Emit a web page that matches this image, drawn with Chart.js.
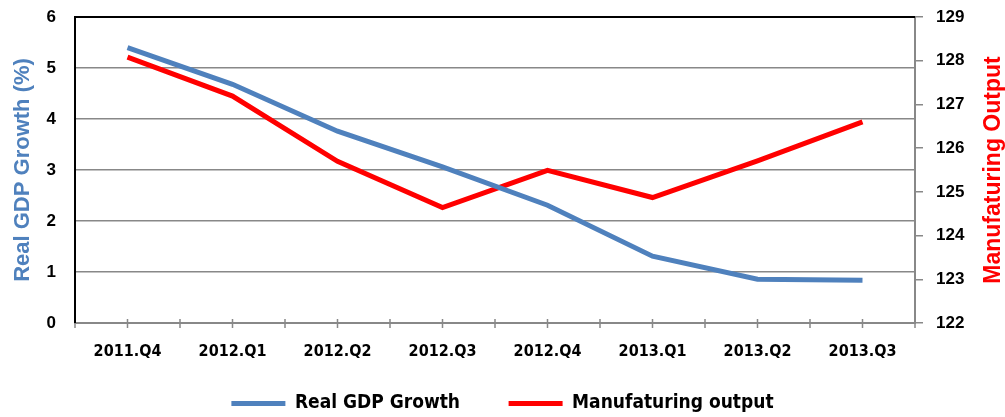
<!DOCTYPE html>
<html>
<head>
<meta charset="utf-8">
<script src="https://cdn.jsdelivr.net/npm/chart.js@4/dist/chart.umd.min.js"></script>
<style>
  body { margin: 0; background: #fff; }
  #wrap { width: 1005px; height: 417px; }
</style>
</head>
<body>
<div id="wrap"><canvas id="gdpChart" width="1005" height="417"></canvas></div>
<script>
// quarters on the x axis
const quarters = ['2011.Q4', '2012.Q1', '2012.Q2', '2012.Q3', '2012.Q4', '2013.Q1', '2013.Q2', '2013.Q3'];

// Real GDP growth (%), left axis
const gdpGrowth = [5.4, 4.68, 3.76, 3.06, 2.31, 1.31, 0.86, 0.84];

// Manufacturing output index, right axis
const manufOutput = [128.08, 127.19, 125.7, 124.64, 125.49, 124.87, 125.71, 126.6];

const labelFont = "Liberation Sans";
const narrowFont = "'DejaVu Sans Condensed', 'Liberation Sans'";

// draws the x tick marks (boundaries + centers), the black left/top frame
// and the right axis title reading bottom-to-top
const framePlugin = {
    id: 'frame',
    afterDraw(chart) {
        const ctx = chart.ctx;
        const a = chart.chartArea;
        ctx.save();
        ctx.strokeStyle = '#888';
        ctx.lineWidth = 1.5;
        ctx.beginPath();
        const step = (a.right - a.left) / quarters.length;
        for (let i = 0; i <= quarters.length * 2; i++) {
            const px = a.left + i * step / 2;
            ctx.moveTo(px, a.bottom - 4);
            ctx.lineTo(px, a.bottom + 5);
        }
        ctx.stroke();
        // black frame left + top
        ctx.strokeStyle = '#000';
        ctx.lineWidth = 2;
        ctx.beginPath();
        ctx.moveTo(a.left, a.bottom);
        ctx.lineTo(a.left, a.top);
        ctx.lineTo(a.right, a.top);
        ctx.stroke();
        // right title
        ctx.translate(994, (a.top + a.bottom) / 2);
        ctx.rotate(-Math.PI / 2);
        ctx.fillStyle = '#ff0000';
        ctx.font = "bold 23px " + labelFont;
        ctx.textAlign = 'center';
        ctx.textBaseline = 'middle';
        ctx.fillText('Manufaturing Output', 0, 0);
        ctx.restore();
    }
};

const ctxGdp = document.getElementById('gdpChart').getContext('2d');
const gdpChart = new Chart(ctxGdp, {
    type: 'line',
    data: {
        labels: quarters,
        datasets: [
            {
                label: 'Real GDP Growth',
                data: gdpGrowth,
                borderColor: '#4f81bd',
                backgroundColor: '#4f81bd',
                borderWidth: 5,
                pointRadius: 0,
                yAxisID: 'y',
            },
            {
                label: 'Manufaturing output',
                data: manufOutput,
                borderColor: '#ff0000',
                backgroundColor: '#ff0000',
                borderWidth: 5,
                pointRadius: 0,
                yAxisID: 'y1',
            },
        ],
    },
    options: {
        responsive: false,
        animation: false,
        layout: { padding: { top: 17, bottom: -6 } },
        plugins: {
            tooltip: { enabled: false },
            legend: {
                position: 'bottom',
                labels: {
                    color: '#000',
                    font: { family: narrowFont, size: 19, weight: 'bold' },
                    boxWidth: 54,
                    boxHeight: 5,
                    padding: 1,
                    generateLabels(chart) {
                        return chart.data.datasets.map((ds, i) => ({
                            // extra spaces widen the gap between the two entries
                            text: i === 0 ? ds.label + '\u00a0'.repeat(8) : ds.label,
                            fillStyle: ds.borderColor,
                            strokeStyle: ds.borderColor,
                            lineWidth: 0,
                            datasetIndex: i,
                        }));
                    },
                },
            },
        },
        scales: {
            x: {
                offset: true,
                border: { display: true, color: '#888', width: 2 },
                grid: { display: false },
                ticks: {
                    color: '#000',
                    padding: 11,
                    font: { family: narrowFont, size: 16, weight: 'bold' },
                },
                afterFit(scale) { scale.height = 70; },
            },
            y: {
                position: 'left',
                min: 0,
                max: 6,
                ticks: {
                    stepSize: 1,
                    color: '#000',
                    padding: 19,
                    font: { family: labelFont, size: 17, weight: 'bold' },
                },
                border: { display: false },
                grid: { color: '#888', lineWidth: 1.5, drawTicks: false },
                title: {
                    display: true,
                    text: 'Real GDP Growth (%)',
                    color: '#4f81bd',
                    font: { family: labelFont, size: 22, weight: 'bold' },
                    padding: { top: 10, bottom: 0 },
                },
                afterFit(scale) {
                    scale.width = 75;
                    scale.paddingTop = 0;
                    scale.paddingBottom = 0;
                },
            },
            y1: {
                position: 'right',
                min: 122,
                max: 129,
                ticks: {
                    stepSize: 1,
                    color: '#000',
                    padding: 13,
                    font: { family: labelFont, size: 17, weight: 'bold' },
                },
                border: { display: true, color: '#888', width: 2 },
                grid: { drawOnChartArea: false, color: '#888', lineWidth: 1.5, tickLength: 8 },
                afterFit(scale) {
                    scale.width = 90;
                    scale.paddingTop = 0;
                    scale.paddingBottom = 0;
                },
            },
        },
    },
    plugins: [framePlugin],
});
</script>
</body>
</html>
